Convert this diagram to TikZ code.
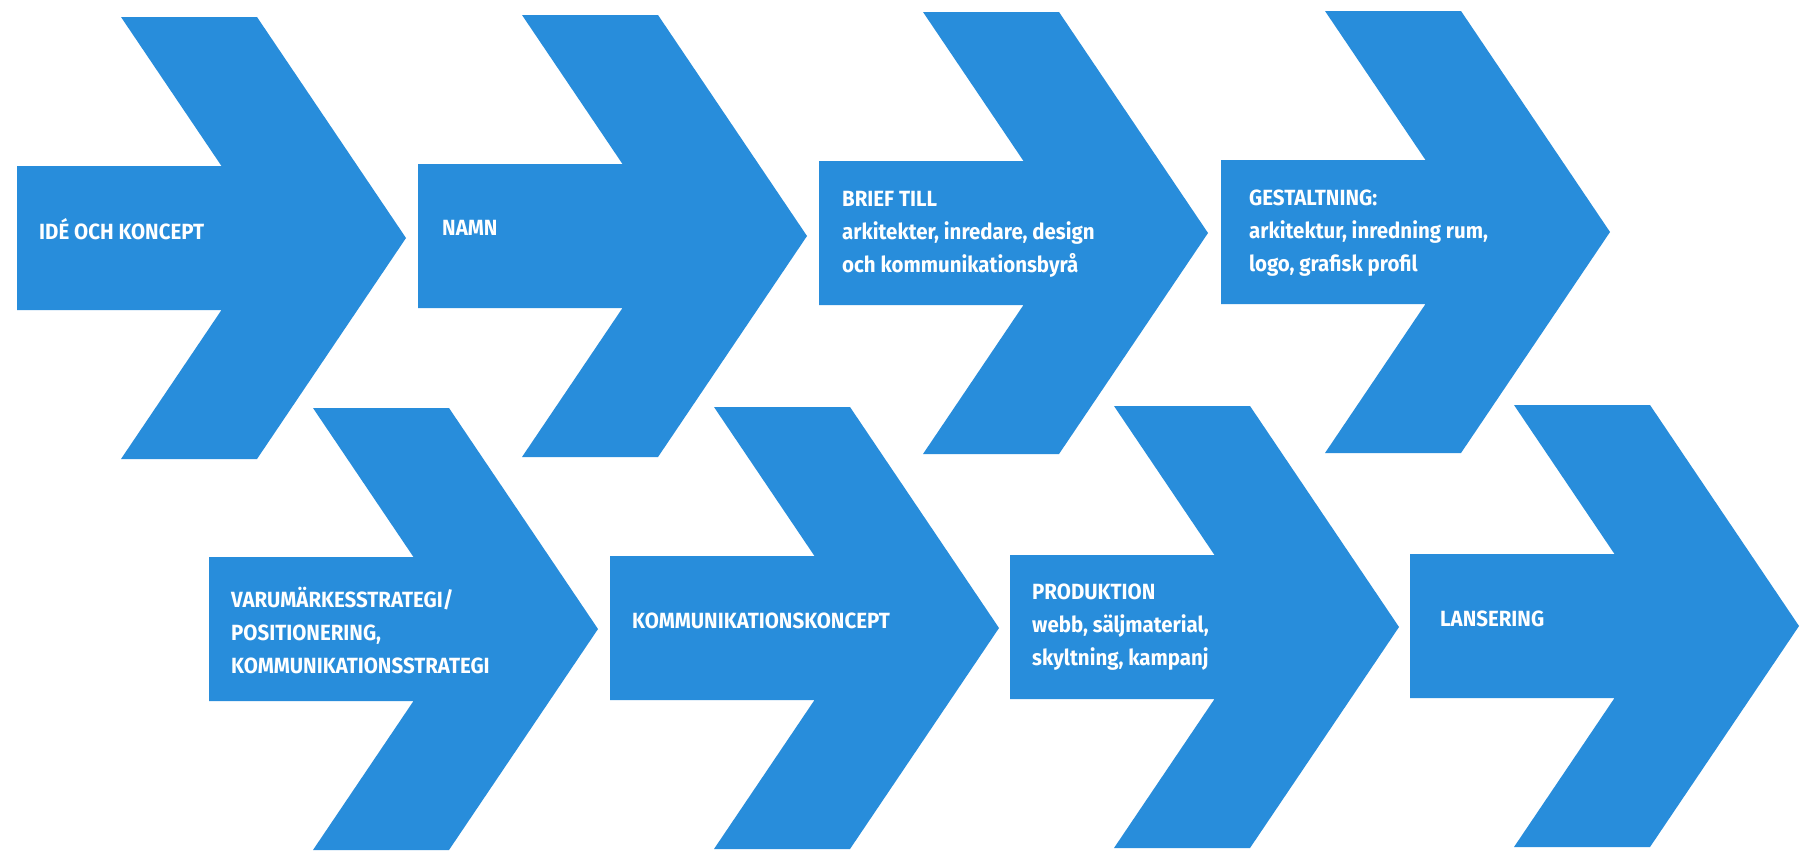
\documentclass[tikz,border=0pt]{standalone}
\usepackage{fontspec}
\newfontfamily\lblfamily[FakeStretch=0.93]{Fira Sans}
\definecolor{arrowblue}{RGB}{40,141,219}
\tikzset{
  chevron/.pic={
    \fill[arrowblue] (0,-72) -- (204.5,-72) -- (104,-221) -- (240,-221) -- (389,0)
      -- (240,221) -- (104,221) -- (204.5,72) -- (0,72) -- cycle;
  },
  lbl/.style={anchor=west, text=white, align=left, inner sep=0pt,
    font=\lblfamily\bfseries\fontsize{22}{33}\selectfont}
}
\begin{document}
\begin{tikzpicture}[x=1pt,y=-1pt]
\fill[white] (0,0) rectangle (1809,855);
\useasboundingbox (0,0) rectangle (1809,855);
% top row
\pic at (17,238) {chevron};
\pic at (418,236) {chevron};
\pic at (819,233) {chevron};
\pic at (1221,232) {chevron};
% bottom row
\pic at (209,629) {chevron};
\pic at (610,628) {chevron};
\pic at (1010,627) {chevron};
\pic at (1410,626) {chevron};
% labels
\node[lbl] (t1) at (39,229) {IDÉ OCH KONCEPT};
\node[lbl] (t2) at (442,228) {NAMN};
\node[lbl] (t3) at (842,234) {BRIEF TILL\\arkitekter, inredare, design\\och kommunikationsbyrå};
\node[lbl] (t4) at (1249,233) {GESTALTNING:\\arkitektur, inredning rum,\\logo, grafisk profil};
\node[lbl] (t5) at (231,630) {VARUMÄRKESSTRATEGI/\\POSITIONERING,\\KOMMUNIKATIONSSTRATEGI};
\node[lbl] (t6) at (632,621) {KOMMUNIKATIONSKONCEPT};
\node[lbl] (t7) at (1032,627) {PRODUKTION\\webb, säljmaterial,\\skyltning, kampanj};
\node[lbl] (t8) at (1440,619) {LANSERING};
\end{tikzpicture}
\end{document}
